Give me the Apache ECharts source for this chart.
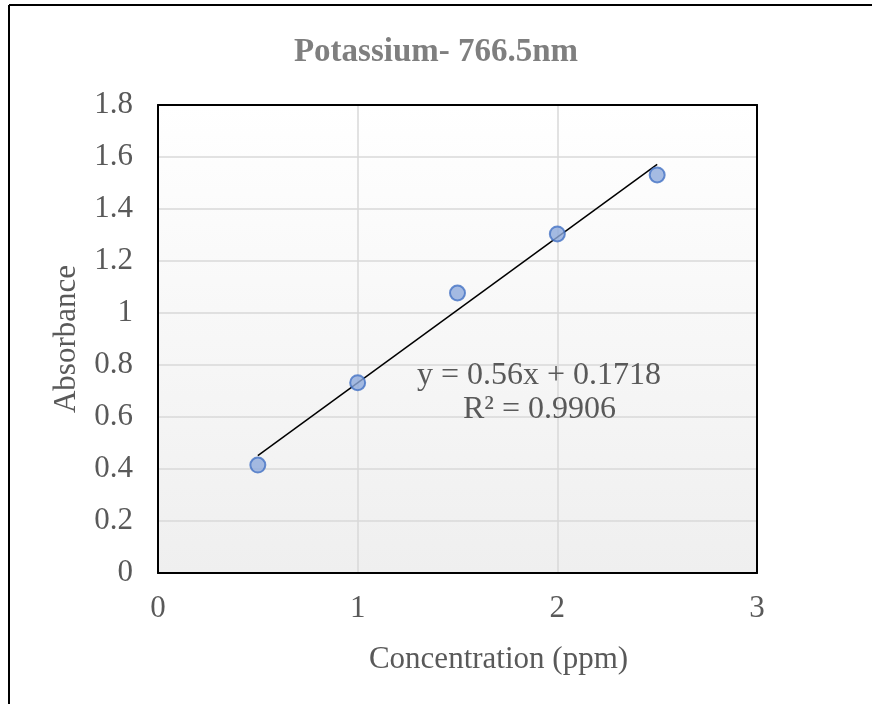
<!DOCTYPE html>
<html>
<head>
<meta charset="utf-8">
<script src="https://cdn.jsdelivr.net/npm/echarts@6/dist/echarts.min.js"></script>
<style>
html,body{margin:0;padding:0;background:#fff;}
#main{width:872px;height:704px;}
</style>
</head>
<body>
<div id="main"></div>
<script>
// Data
const concentration = [0.5, 1, 1.5, 2, 2.5];
const absorbance = [0.415, 0.732, 1.077, 1.304, 1.531];
const trendX = [0.5, 2.5];
const trendY = [0.4518, 1.5718];
const equationText = 'y = 0.56x + 0.1718';
const r2Text = 'R² = 0.9906';
const titleText = 'Potassium- 766.5nm';
const xName = 'Concentration (ppm)';
const yName = 'Absorbance';

const FONT = "'Liberation Serif','Times New Roman',serif";
const frameAxis = {
  axisLine: {show: true, onZero: false, lineStyle: {color: '#000', width: 2}},
  axisTick: {show: false}, axisLabel: {show: false}, splitLine: {show: false}
};
const chart = echarts.init(document.getElementById('main'));
chart.setOption({
  animation: false,
  backgroundColor: '#fff',
  title: {
    text: titleText,
    left: 'center',
    top: 31,
    textStyle: {fontFamily: FONT, fontWeight: 'bold', fontSize: 33, color: '#7f7f7f'}
  },
  grid: {
    left: 158, right: 115, top: 105, bottom: 131,
    show: true,
    borderColor: '#000', borderWidth: 0,
    backgroundColor: {type: 'linear', x: 0, y: 0, x2: 0, y2: 1,
      colorStops: [{offset: 0, color: '#ffffff'}, {offset: 1, color: '#efefef'}]}
  },
  xAxis: [{
    type: 'value', min: 0, max: 3, interval: 1,
    name: xName, nameLocation: 'middle', nameGap: 71,
    nameTextStyle: {fontFamily: FONT, fontSize: 31, color: '#595959', padding: [0, 0, 0, 82]},
    axisLine: {show: true, onZero: false, lineStyle: {color: '#000', width: 2}},
    axisTick: {show: false},
    axisLabel: {fontFamily: FONT, fontSize: 31, color: '#595959', margin: 20},
    splitLine: {show: true, lineStyle: {color: '#d9d9d9', width: 1.5}}
  }, Object.assign({type: 'value', min: 0, max: 3, position: 'top', z: 5}, frameAxis)],
  yAxis: [{
    type: 'value', min: 0, max: 1.8, interval: 0.2,
    name: yName, nameLocation: 'middle', nameGap: 76,
    nameTextStyle: {fontFamily: FONT, fontSize: 31, color: '#595959'},
    axisLine: {show: true, onZero: false, lineStyle: {color: '#000', width: 2}},
    axisTick: {show: false},
    axisLabel: {fontFamily: FONT, fontSize: 31, color: '#595959', margin: 25,
      formatter: v => String(Math.round(v * 10) / 10)},
    splitLine: {show: true, lineStyle: {color: '#d9d9d9', width: 1.5}}
  }, Object.assign({type: 'value', min: 0, max: 1.8, position: 'right', z: 5}, frameAxis)],
  series: [
    {
      type: 'line',
      data: trendX.map((x, i) => [x, trendY[i]]),
      showSymbol: false, symbol: 'none',
      lineStyle: {color: '#000', width: 1.5},
      z: 2
    },
    {
      type: 'scatter',
      data: concentration.map((x, i) => [x, absorbance[i]]),
      symbol: 'circle', symbolSize: 15,
      itemStyle: {color: '#8faadc', borderColor: '#4472c4', borderWidth: 2},
      z: 3
    }
  ],
  graphic: [
    {type: 'line', shape: {x1: 9, y1: 5, x2: 872, y2: 5}, style: {stroke: '#000', lineWidth: 2}},
    {type: 'line', shape: {x1: 9, y1: 5, x2: 9, y2: 704}, style: {stroke: '#000', lineWidth: 2}},
    {type: 'text', left: 417, top: 360, z: 10,
      style: {text: equationText, font: "32px " + FONT, fill: '#595959'}},
    {type: 'text', left: 463, top: 394, z: 10,
      style: {text: r2Text, font: "32px " + FONT, fill: '#595959'}}
  ]
});
</script>
</body>
</html>
